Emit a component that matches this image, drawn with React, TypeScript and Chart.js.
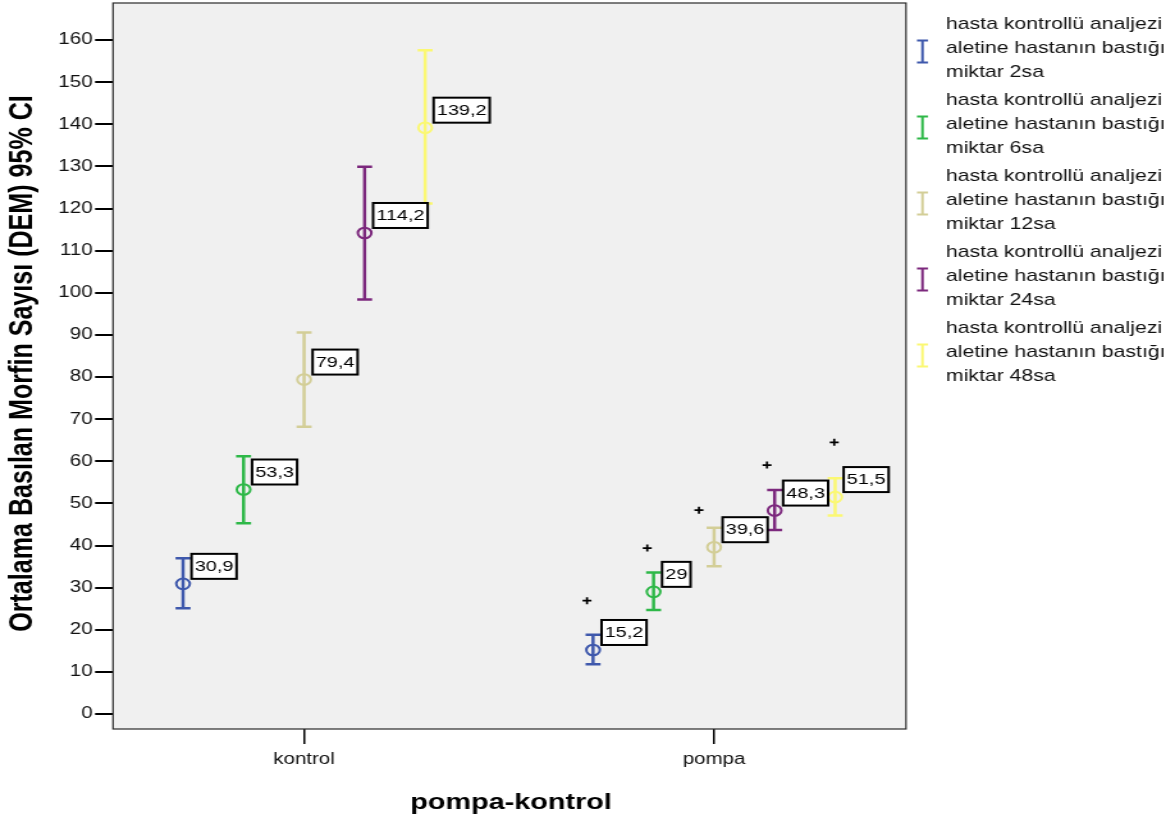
import React, { useEffect, useRef } from 'react';
import { Chart, registerables } from 'chart.js';

Chart.register(...registerables);

// ---------------- data ----------------
const categories = ['kontrol', 'pompa'];

const seriesLegend = [
  ['hasta kontrollü analjezi', 'aletine hastanın bastığı', 'miktar 2sa'],
  ['hasta kontrollü analjezi', 'aletine hastanın bastığı', 'miktar 6sa'],
  ['hasta kontrollü analjezi', 'aletine hastanın bastığı', 'miktar 12sa'],
  ['hasta kontrollü analjezi', 'aletine hastanın bastığı', 'miktar 24sa'],
  ['hasta kontrollü analjezi', 'aletine hastanın bastığı', 'miktar 48sa'],
];
const seriesColors = ['#3E58AC', '#2EB848', '#D3CE97', '#7C287D', '#FBF873'];

const kontrolMean = [30.9, 53.3, 79.4, 114.2, 139.2];
const kontrolLower = [25.1, 45.3, 68.2, 98.4, 121.2];
const kontrolUpper = [37.0, 61.2, 90.6, 129.9, 157.6];

const pompaMean = [15.2, 29.0, 39.6, 48.3, 51.5];
const pompaLower = [11.8, 24.7, 35.1, 43.7, 47.1];
const pompaUpper = [18.8, 33.6, 44.2, 53.2, 56.0];

// small "+" markers above the pompa bars
const extremeX = [0.69, 0.837, 0.963, 1.129, 1.293];
const extremeY = [26.9, 39.4, 48.4, 59.1, 64.5];

const yTicks = [0, 10, 20, 30, 40, 50, 60, 70, 80, 90, 100, 110, 120, 130, 140, 150, 160];

const yTitle = 'Ortalama Basılan Morfin Sayısı (DEM) 95% CI';
const xTitle = 'pompa-kontrol';

// ---------------- layout (internal canvas, stretched horizontally by CSS) ----------------
const W = 918;
const H = 819;
const S = 1175 / W;
const ix = (imgX: number) => imgX / S;
const AREA = { left: ix(113), right: ix(906), top: 3, bottom: 729 };
const X_MIN = -0.466;
const X_MAX = 1.468;
const Y_MIN = -3.56;
const Y_MAX = 168.8;
const SLOT = 0.1476;
const FONT = "'Liberation Sans', Arial, Helvetica, sans-serif";

const groups = [
  { mean: kontrolMean, lower: kontrolLower, upper: kontrolUpper },
  { mean: pompaMean, lower: pompaLower, upper: pompaUpper },
];

const fmt = (v: number) => String(v).replace('.', ',');

const customPlugin = {
  id: 'spssErrorBars',
  beforeDraw(chart: any) {
    const { ctx, chartArea: a } = chart;
    ctx.save();
    ctx.fillStyle = '#ffffff';
    ctx.fillRect(0, 0, chart.width, chart.height);
    ctx.fillStyle = '#f0f0f0';
    ctx.fillRect(a.left, a.top, a.right - a.left, a.bottom - a.top);
    ctx.restore();
  },
  beforeDatasetsDraw(chart: any) {
    const { ctx } = chart;
    const xs = chart.scales.x;
    const ys = chart.scales.y;
    ctx.save();
    ctx.lineWidth = 2.5;
    ctx.lineCap = 'butt';
    const cap = ix(7.5);
    groups.forEach((g, gi) => {
      seriesColors.forEach((c, si) => {
        const x = xs.getPixelForValue(gi + (si - 2) * SLOT);
        const yU = ys.getPixelForValue(g.upper[si]);
        const yL = ys.getPixelForValue(g.lower[si]);
        ctx.strokeStyle = c;
        ctx.beginPath();
        ctx.moveTo(x, yU);
        ctx.lineTo(x, yL);
        ctx.moveTo(x - cap, yU);
        ctx.lineTo(x + cap, yU);
        ctx.moveTo(x - cap, yL);
        ctx.lineTo(x + cap, yL);
        ctx.stroke();
      });
    });
    ctx.restore();
  },
  afterDatasetsDraw(chart: any) {
    const { ctx } = chart;
    const xs = chart.scales.x;
    const ys = chart.scales.y;
    ctx.save();
    ctx.font = `15.5px ${FONT}`;
    ctx.textBaseline = 'middle';
    ctx.textAlign = 'left';
    groups.forEach((g, gi) => {
      seriesColors.forEach((_c, si) => {
        const x = xs.getPixelForValue(gi + (si - 2) * SLOT);
        const y = ys.getPixelForValue(g.mean[si]);
        const txt = fmt(g.mean[si]);
        const tw = ctx.measureText(txt).width;
        const bx = x + ix(8.5);
        const bh = 25;
        const by = y - 5 - bh;
        const bw = tw + 5;
        ctx.fillStyle = '#ffffff';
        ctx.fillRect(bx, by, bw, bh);
        ctx.strokeStyle = '#000000';
        ctx.lineWidth = 2;
        ctx.strokeRect(bx, by, bw, bh);
        ctx.fillStyle = '#000000';
        ctx.fillText(txt, bx + 2.5, by + bh / 2 + 0.5);
      });
    });
    ctx.restore();
  },
  afterDraw(chart: any) {
    const { ctx, chartArea: a } = chart;
    ctx.save();
    // frame
    ctx.strokeStyle = '#2a2a2a';
    ctx.lineWidth = 1.2;
    ctx.strokeRect(a.left, a.top, a.right - a.left, a.bottom - a.top);

    // x title
    ctx.fillStyle = '#000000';
    ctx.font = `bold 22.5px ${FONT}`;
    ctx.textAlign = 'center';
    ctx.textBaseline = 'alphabetic';
    ctx.fillText(xTitle, ix(511), 809);

    // y title (fit to its length)
    ctx.font = `bold 24px ${FONT}`;
    const m = ctx.measureText(yTitle).width;
    const fs = (24 * 537) / m;
    ctx.font = `bold ${fs}px ${FONT}`;
    ctx.translate(ix(22.5), 363.5);
    ctx.rotate(-Math.PI / 2);
    ctx.textAlign = 'center';
    ctx.textBaseline = 'middle';
    ctx.fillText(yTitle, 0, 0);
    ctx.restore();

    // legend
    ctx.save();
    ctx.font = `16.6px ${FONT}`;
    ctx.textAlign = 'left';
    ctx.textBaseline = 'middle';
    seriesLegend.forEach((lines, gi) => {
      const y0 = 24 + 76 * gi;
      ctx.fillStyle = '#111111';
      lines.forEach((ln, li) => {
        ctx.fillText(ln, ix(946), y0 + 24.3 * li);
      });
      const cx = ix(922.5);
      const cy = y0 + 27.5;
      const hw = ix(5.5);
      ctx.strokeStyle = seriesColors[gi];
      ctx.lineWidth = 2;
      ctx.beginPath();
      ctx.moveTo(cx, cy - 11);
      ctx.lineTo(cx, cy + 11);
      ctx.moveTo(cx - hw, cy - 11);
      ctx.lineTo(cx + hw, cy - 11);
      ctx.moveTo(cx - hw, cy + 11);
      ctx.lineTo(cx + hw, cy + 11);
      ctx.stroke();
    });
    ctx.restore();
  },
};

export default function App() {
  const ref = useRef<HTMLCanvasElement | null>(null);

  useEffect(() => {
    if (!ref.current) return;
    Chart.defaults.font.family = FONT;

    const meanSets = seriesColors.map((c, si) => ({
      label: seriesLegend[si].join(' '),
      data: groups.map((g, gi) => ({ x: gi + (si - 2) * SLOT, y: g.mean[si] })),
      showLine: false,
      pointStyle: 'circle',
      pointRadius: 5.3,
      pointBorderWidth: 2,
      pointBorderColor: c,
      pointBackgroundColor: 'rgba(0,0,0,0)',
      borderColor: c,
      backgroundColor: 'rgba(0,0,0,0)',
    }));

    const extremeSet = {
      label: 'extreme',
      data: extremeX.map((x, i) => ({ x, y: extremeY[i] })),
      showLine: false,
      pointStyle: 'cross',
      pointRadius: 3.5,
      pointBorderWidth: 1.7,
      pointBorderColor: '#000000',
      borderColor: '#000000',
      backgroundColor: '#000000',
    };

    const chart = new Chart(ref.current, {
      type: 'scatter',
      data: { datasets: [...meanSets, extremeSet] as any },
      options: {
        responsive: false,
        animation: false,
        devicePixelRatio: 1,
        events: [],
        layout: { autoPadding: false, padding: { left: 0, top: AREA.top, right: W - AREA.right, bottom: 0 } },
        plugins: { legend: { display: false }, tooltip: { enabled: false } },
        scales: {
          x: {
            type: 'linear',
            position: 'bottom',
            min: X_MIN,
            max: X_MAX,
            afterBuildTicks: (s: any) => {
              s.ticks = categories.map((_c, i) => ({ value: i }));
            },
            afterFit: (s: any) => {
              s.height = H - AREA.bottom;
              s.paddingLeft = 0;
              s.paddingRight = 0;
              s.paddingTop = 0;
              s.paddingBottom = 0;
            },
            ticks: {
              callback: (v: any) => categories[Math.round(Number(v))],
              font: { size: 16 },
              color: '#111111',
              padding: 6,
              maxRotation: 0,
              autoSkip: false,
            },
            grid: { drawOnChartArea: false, tickLength: 15, color: '#000000', lineWidth: 1.5 },
            border: { display: false },
          },
          y: {
            type: 'linear',
            min: Y_MIN,
            max: Y_MAX,
            afterBuildTicks: (s: any) => {
              s.ticks = yTicks.map((v) => ({ value: v }));
            },
            afterFit: (s: any) => {
              s.width = AREA.left;
              s.paddingLeft = 0;
              s.paddingRight = 0;
              s.paddingTop = 0;
              s.paddingBottom = 0;
            },
            ticks: {
              callback: (v: any) => String(v),
              font: { size: 16 },
              color: '#111111',
              padding: 2,
              autoSkip: false,
            },
            grid: { drawOnChartArea: false, tickLength: 14, color: '#000000', lineWidth: 2 },
            border: { display: false },
          },
        },
      } as any,
      plugins: [customPlugin as any],
    });

    return () => chart.destroy();
  }, []);

  return (
    <div style={{ position: 'absolute', left: 0, top: 0, width: 1175, height: 819, overflow: 'hidden' }}>
      <canvas
        ref={ref}
        width={W}
        height={H}
        style={{ width: '1175px', height: '819px', display: 'block' }}
      />
    </div>
  );
}
